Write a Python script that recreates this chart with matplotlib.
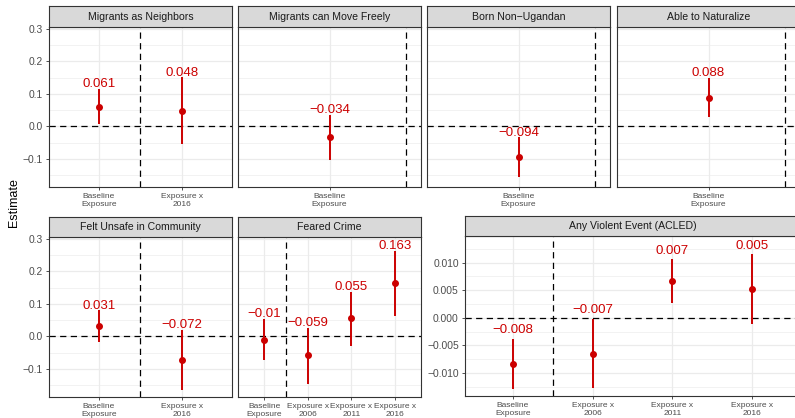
import numpy as np
import matplotlib.pyplot as plt
from matplotlib.ticker import FuncFormatter, MultipleLocator

plt.rcParams['font.family'] = ['Liberation Sans', 'DejaVu Sans']

W, H = 795, 418
RED = '#CC0000'

# category labels
cats_1 = ['Baseline\nExposure']
cats_2 = ['Baseline\nExposure', 'Exposure x\n2016']
cats_4 = ['Baseline\nExposure', 'Exposure x\n2006', 'Exposure x\n2011', 'Exposure x\n2016']

# estimates and confidence intervals
neighbors_est = [0.061, 0.048]
neighbors_lo = [0.006, -0.055]
neighbors_hi = [0.115, 0.151]

move_est = [-0.034]
move_lo = [-0.104]
move_hi = [0.035]

born_est = [-0.094]
born_lo = [-0.157]
born_hi = [-0.034]

natur_est = [0.088]
natur_lo = [0.028]
natur_hi = [0.150]

unsafe_est = [0.031, -0.072]
unsafe_lo = [-0.018, -0.166]
unsafe_hi = [0.080, 0.020]

crime_est = [-0.010, -0.059, 0.055, 0.163]
crime_lo = [-0.074, -0.148, -0.030, 0.063]
crime_hi = [0.053, 0.027, 0.138, 0.263]

acled_est = [-0.0084, -0.0066, 0.0067, 0.0052]
acled_lo = [-0.0130, -0.0128, 0.0027, -0.0011]
acled_hi = [-0.0038, -0.0002, 0.0106, 0.0115]

fig = plt.figure(figsize=(W / 100, H / 100), dpi=100)


def fmt_label(v):
    return f"{round(v, 3):g}".replace('-', '\u2212')


def add_panel(x0, x1, y0, y1, strip_top, title):
    ax = fig.add_axes([x0 / W, 1 - y1 / H, (x1 - x0) / W, (y1 - y0) / H])
    sax = fig.add_axes([x0 / W, 1 - y0 / H, (x1 - x0) / W, (y0 - strip_top) / H])
    sax.set_facecolor('#D9D9D9')
    sax.set_xticks([])
    sax.set_yticks([])
    for s in sax.spines.values():
        s.set_color('#333333')
        s.set_linewidth(0.8)
    sax.text(0.5, 0.5, title, ha='center', va='center', fontsize=7.6,
             color='#1A1A1A', transform=sax.transAxes)
    return ax


def draw(ax, cats, est, lo, hi, ylim, major, decimals, show_y, off):
    x = np.arange(1, len(cats) + 1)
    ax.set_xlim(0.4, len(cats) + 0.6)
    ax.set_ylim(*ylim)
    ax.set_xticks(x)
    ax.set_xticklabels(cats, fontsize=6.0, color='#4D4D4D', linespacing=1.1)
    ax.yaxis.set_major_locator(MultipleLocator(major))
    ax.yaxis.set_minor_locator(MultipleLocator(major / 2))
    ax.yaxis.set_major_formatter(FuncFormatter(
        lambda v, p: f"{v:.{decimals}f}".replace('-', '\u2212').replace('\u22120.000', '0.000')))
    ax.grid(which='major', color='#EBEBEB', lw=0.9)
    ax.grid(which='minor', axis='y', color='#EBEBEB', lw=0.45)
    ax.set_axisbelow(True)
    ax.tick_params(which='major', length=2.5, width=0.6, color='#333333', pad=2,
                   labelcolor='#4D4D4D')
    ax.tick_params(axis='y', labelsize=7.4)
    ax.tick_params(axis='y', which='minor', length=0)
    if not show_y:
        ax.tick_params(axis='y', left=False, labelleft=False)
    for s in ax.spines.values():
        s.set_color('#333333')
        s.set_linewidth(0.8)

    ax.axhline(0, color='black', ls=(0, (5, 3.5)), lw=0.9)
    ax.axvline(1.5, color='black', ls=(0, (5, 3.5)), lw=0.9)
    ax.vlines(x, lo, hi, color=RED, lw=1.4)
    ax.plot(x, est, 'o', color=RED, ms=4)
    for xi, e, h in zip(x, est, hi):
        ax.text(xi, h + off, fmt_label(e), ha='center', va='baseline',
                color=RED, fontsize=9.5)


ylim_main = (-0.187, 0.306)
ylim_acled = (-0.01418, 0.01483)

# top row
ax = add_panel(49, 232, 27, 187, 6, 'Migrants as Neighbors')
draw(ax, cats_2, neighbors_est, neighbors_lo, neighbors_hi, ylim_main, 0.1, 1, True, 0.005)
ax = add_panel(238, 421, 27, 187, 6, 'Migrants can Move Freely')
draw(ax, cats_1, move_est, move_lo, move_hi, ylim_main, 0.1, 1, False, 0.005)
ax = add_panel(427, 610, 27, 187, 6, 'Born Non\u2212Ugandan')
draw(ax, cats_1, born_est, born_lo, born_hi, ylim_main, 0.1, 1, False, 0.005)
ax = add_panel(617, 800, 27, 187, 6, 'Able to Naturalize')
draw(ax, cats_1, natur_est, natur_lo, natur_hi, ylim_main, 0.1, 1, False, 0.005)

# bottom row
ax = add_panel(49, 232, 237, 397, 217, 'Felt Unsafe in Community')
draw(ax, cats_2, unsafe_est, unsafe_lo, unsafe_hi, ylim_main, 0.1, 1, True, 0.005)
ax = add_panel(238, 421, 237, 397, 217, 'Feared Crime')
draw(ax, cats_4, crime_est, crime_lo, crime_hi, ylim_main, 0.1, 1, False, 0.005)
ax = add_panel(465, 800, 236, 396, 216, 'Any Violent Event (ACLED)')
draw(ax, cats_4, acled_est, acled_lo, acled_hi, ylim_acled, 0.005, 3, True, 0.001)

fig.text(14 / W, 1 - 203 / H, 'Estimate', rotation=90, ha='center', va='center',
         fontsize=9, color='black')

fig.savefig('out.png', dpi=100)
